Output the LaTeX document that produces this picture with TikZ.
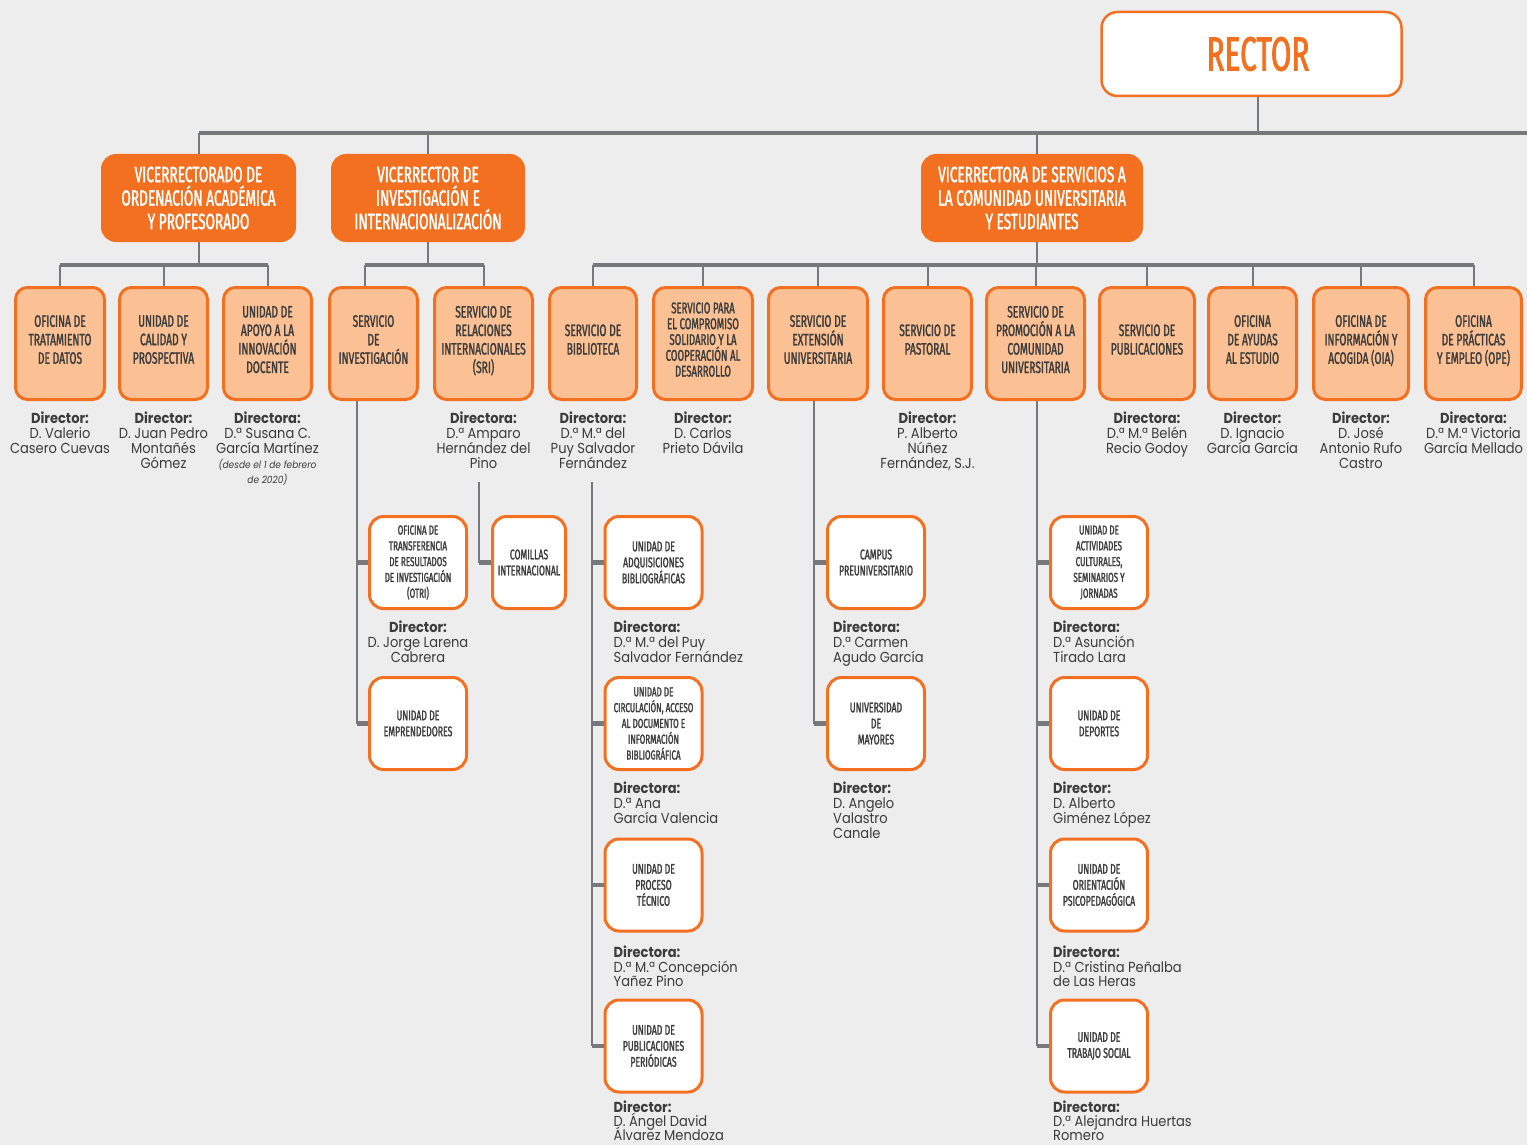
\documentclass[tikz,border=0pt]{standalone}
\usepackage{fontspec}
\setmainfont[FakeStretch=0.9]{Poppins}
\newfontfamily\condfont[FakeStretch=0.62,FakeBold=1.6]{Fira Sans}
\usetikzlibrary{positioning}

\definecolor{uorange}{HTML}{F37021}
\definecolor{ulight}{HTML}{FBC194}
\definecolor{ugray}{HTML}{77787B}
\definecolor{ubg}{HTML}{EDEDED}
\definecolor{utext}{HTML}{3C3C3C}

\newcommand\tightlines{\lineskiplimit=-20pt\relax}

\tikzset{
  rectorbox/.style={draw=uorange, fill=white, line width=2.5pt, rounded corners=16pt,
    text=uorange, font=\condfont\fontsize{48}{50}\selectfont, minimum width=300pt, minimum height=84pt},
  vicebox/.style={draw=uorange, fill=uorange, line width=2pt, rounded corners=14pt, text=white,
    font=\condfont\fontsize{22}{23.5}\selectfont, align=center, minimum height=86pt, inner sep=0pt},
  servbox/.style={draw=uorange, fill=ulight, line width=3pt, rounded corners=12pt, text=utext,
    font=\condfont\fontsize{16.5}{18.5}\selectfont, align=center, minimum height=112pt, inner sep=0pt,
    text depth=8pt},
  unitbox/.style={draw=uorange, fill=white, line width=3pt, rounded corners=14pt, text=utext,
    font=\condfont\fontsize{14}{16}\selectfont, align=center, minimum width=97pt, minimum height=92pt, inner sep=0pt},
  who/.style={text=utext, font=\fontsize{14.5}{14.8}\selectfont\tightlines, align=center, inner sep=0pt},
  whoL/.style={who, align=left, anchor=north west},
  link/.style={draw=ugray, line width=2pt},
  bar/.style={draw=ugray, line width=4.5pt},
}

\begin{document}
\begin{tikzpicture}[x=1pt, y=-1pt]
  \useasboundingbox (0,0) rectangle (1527,1145);
  \fill[ubg] (0,0) rectangle (1527,1145);

  % rector and vice-rectors
  \node[rectorbox] (rector) at (1251.5,54) {\hspace*{13pt}RECTOR};
  \node[vicebox, minimum width=193pt] (vr1) at (198.5,198) {VICERRECTORADO DE\\ORDENACIÓN ACADÉMICA\\Y PROFESORADO};
  \node[vicebox, minimum width=192pt] (vr2) at (428,198) {VICERRECTOR DE\\INVESTIGACIÓN E\\INTERNACIONALIZACIÓN};
  \node[vicebox, minimum width=220pt] (vr3) at (1032,198) {VICERRECTORA DE SERVICIOS A\\LA COMUNIDAD UNIVERSITARIA\\Y ESTUDIANTES};

  \coordinate (bar0) at (199,133);
  \coordinate (bar0end) at (1527,133);
  \draw[link] ([xshift=6.5pt]rector.south) -- ([xshift=6.5pt]rector.south |- bar0);
  \draw[bar] (bar0) -- (bar0end);
  \draw[link] (vr1.north) -- (vr1.north |- bar0);
  \draw[link] (vr2.north) -- (vr2.north |- bar0);
  \draw[link] ([xshift=5pt]vr3.north) -- ([xshift=5pt]vr3.north |- bar0);

  % services
  \node[servbox, minimum width=89pt] (tdat) at (60,343.5) {OFICINA DE\\TRATAMIENTO\\DE DATOS};
  \node[servbox, minimum width=88pt] (calid) at (163.5,343.5) {UNIDAD DE\\CALIDAD Y\\PROSPECTIVA};
  \node[servbox, minimum width=88pt] (innov) at (267.5,343.5) {UNIDAD DE\\APOYO A LA\\INNOVACIÓN\\DOCENTE};
  \node[servbox, minimum width=88pt] (sinv) at (373.5,343.5) {SERVICIO\\DE\\INVESTIGACIÓN};
  \node[servbox, minimum width=98pt] (sri) at (483.5,343.5) {SERVICIO DE\\RELACIONES\\INTERNACIONALES\\(SRI)};
  \node[servbox, minimum width=87pt] (bibl) at (593,343.5) {SERVICIO DE\\BIBLIOTECA};
  \node[servbox, minimum width=99pt, font=\condfont\fontsize{15.5}{15.8}\selectfont] (compr) at (703,343.5) {SERVICIO PARA\\EL COMPROMISO\\SOLIDARIO Y LA\\COOPERACIÓN AL\\DESARROLLO};
  \node[servbox, minimum width=99pt] (ext) at (818,343.5) {SERVICIO DE\\EXTENSIÓN\\UNIVERSITARIA};
  \node[servbox, minimum width=88pt] (past) at (927.5,343.5) {SERVICIO DE\\PASTORAL};
  \node[servbox, minimum width=98pt] (prom) at (1035.5,343.5) {SERVICIO DE\\PROMOCIÓN A LA\\COMUNIDAD\\UNIVERSITARIA};
  \node[servbox, minimum width=95pt] (publ) at (1147,343.5) {SERVICIO DE\\PUBLICACIONES};
  \node[servbox, minimum width=88pt] (ayud) at (1252.5,343.5) {OFICINA\\DE AYUDAS\\AL ESTUDIO};
  \node[servbox, minimum width=95pt] (oia) at (1361,343.5) {OFICINA DE\\INFORMACIÓN Y\\ACOGIDA (OIA)};
  \node[servbox, minimum width=96pt] (ope) at (1473.5,343.5) {OFICINA\\DE PRÁCTICAS\\Y EMPLEO (OPE)};

  \coordinate (bar1) at (0,265);
  \draw[link] (vr1) -- (vr1 |- bar1);
  \draw[bar] (tdat.north |- bar1) -- (innov.north |- bar1);
  \foreach \n in {tdat,calid,innov}
    \draw[link] (\n.north) -- (\n.north |- bar1);
  \draw[link] (vr2) -- (vr2 |- bar1);
  \draw[bar] ([xshift=-9pt]sinv.north |- bar1) -- (sri.north |- bar1);
  \draw[link] ([xshift=-9pt]sinv.north) -- ([xshift=-9pt]sinv.north |- bar1);
  \draw[link] (sri.north) -- (sri.north |- bar1);
  \draw[link] ([xshift=5pt]vr3.south) -- ([xshift=5pt]vr3.south |- bar1);
  \draw[bar] (bibl.north |- bar1) -- (ope.north |- bar1);
  \foreach \n in {bibl,compr,ext,past,prom,publ,ayud,oia,ope}
    \draw[link] (\n.north) -- (\n.north |- bar1);

  % heads of services
  \node[who, below=11pt of tdat] {\textbf{Director:}\\D. Valerio\\Casero Cuevas};
  \node[who, below=11pt of calid] {\textbf{Director:}\\D. Juan Pedro\\Montañés\\Gómez};
  \node[who, below=11pt of innov] {\textbf{Directora:}\\D.ª Susana C.\\García Martínez\\{\itshape\fontsize{10}{15}\selectfont(desde el 1 de febrero}\\{\itshape\fontsize{10}{15}\selectfont de 2020)}};
  \node[who, below=11pt of sri] {\textbf{Directora:}\\D.ª Amparo\\Hernández del\\Pino};
  \node[who, below=11pt of bibl] {\textbf{Directora:}\\D.ª M.ª del\\Puy Salvador\\Fernández};
  \node[who, below=11pt of compr] {\textbf{Director:}\\D. Carlos\\Prieto Dávila};
  \node[who, below=11pt of past] {\textbf{Director:}\\P. Alberto\\Núñez\\Fernández, S.J.};
  \node[who, below=11pt of publ] {\textbf{Directora:}\\D.ª M.ª Belén\\Recio Godoy};
  \node[who, below=11pt of ayud] {\textbf{Director:}\\D. Ignacio\\García García};
  \node[who, below=11pt of oia] {\textbf{Director:}\\D. José\\Antonio Rufo\\Castro};
  \node[who, below=11pt of ope] {\textbf{Directora:}\\D.ª M.ª Victoria\\García Mellado};

  % units
  \node[unitbox, font=\condfont\fontsize{13}{15.8}\selectfont] (otri) at (418,562.5) {OFICINA DE\\TRANSFERENCIA\\DE RESULTADOS\\DE INVESTIGACIÓN\\(OTRI)};
  \node[unitbox] (empr) at (418,723.5) {UNIDAD DE\\EMPRENDEDORES};
  \node[unitbox, minimum width=73pt] (comi) at (529,562.5) {COMILLAS\\INTERNACIONAL};
  \node[unitbox] (adq) at (653.5,562.5) {UNIDAD DE\\ADQUISICIONES\\BIBLIOGRÁFICAS};
  \node[unitbox, font=\condfont\fontsize{13}{15.8}\selectfont] (circ) at (653.5,723.5) {UNIDAD DE\\CIRCULACIÓN, ACCESO\\AL DOCUMENTO E\\INFORMACIÓN\\BIBLIOGRÁFICA};
  \node[unitbox] (proc) at (653.5,885) {UNIDAD DE\\PROCESO\\TÉCNICO};
  \node[unitbox] (perio) at (653.5,1046) {UNIDAD DE\\PUBLICACIONES\\PERIÓDICAS};
  \node[unitbox] (campus) at (876,562.5) {CAMPUS\\PREUNIVERSITARIO};
  \node[unitbox] (mayor) at (876,723.5) {UNIVERSIDAD\\DE\\MAYORES};
  \node[unitbox, font=\condfont\fontsize{13}{15.8}\selectfont] (activ) at (1099,562.5) {UNIDAD DE\\ACTIVIDADES\\CULTURALES,\\SEMINARIOS Y\\JORNADAS};
  \node[unitbox] (deport) at (1099,723.5) {UNIDAD DE\\DEPORTES};
  \node[unitbox] (orient) at (1099,885) {UNIDAD DE\\ORIENTACIÓN\\PSICOPEDAGÓGICA};
  \node[unitbox] (trab) at (1099,1046) {UNIDAD DE\\TRABAJO SOCIAL};

  % branches to units
  \coordinate (dinv) at ([xshift=-17pt]sinv.south);
  \draw[link] (dinv) -- (dinv |- empr.west);
  \foreach \n in {otri,empr}
    \draw[bar] (dinv |- \n.west) -- (\n.west);
  \coordinate (dsri) at (479,482);
  \draw[link] (dsri) -- (dsri |- comi.west);
  \draw[bar] (dsri |- comi.west) -- (comi.west);
  \coordinate (dbib) at (592,482);
  \draw[link] (dbib) -- (dbib |- perio.west);
  \foreach \n in {adq,circ,proc,perio}
    \draw[bar] (dbib |- \n.west) -- (\n.west);
  \coordinate (dext) at ([xshift=-4pt]ext.south);
  \draw[link] (dext) -- (dext |- mayor.west);
  \foreach \n in {campus,mayor}
    \draw[bar] (dext |- \n.west) -- (\n.west);
  \coordinate (dprom) at ([xshift=1.5pt]prom.south);
  \draw[link] (dprom) -- (dprom |- trab.west);
  \foreach \n in {activ,deport,orient,trab}
    \draw[bar] (dprom |- \n.west) -- (\n.west);

  % heads of units
  \node[who, below=11pt of otri] {\textbf{Director:}\\D. Jorge Larena\\Cabrera};
  \node[whoL] at ([shift={(10pt,-11pt)}]adq.south west) {\textbf{Directora:}\\D.ª M.ª del Puy\\Salvador Fernández};
  \node[whoL] at ([shift={(10pt,-11pt)}]circ.south west) {\textbf{Directora:}\\D.ª Ana\\García Valencia};
  \node[whoL] at ([shift={(10pt,-13pt)}]proc.south west) {\textbf{Directora:}\\D.ª M.ª Concepción\\Yañez Pino};
  \node[whoL, font=\fontsize{14.5}{14.2}\selectfont\tightlines] at ([shift={(10pt,-7pt)}]perio.south west) {\textbf{Director:}\\D. Ángel David\\Álvarez Mendoza};
  \node[whoL] at ([shift={(7pt,-11pt)}]campus.south west) {\textbf{Directora:}\\D.ª Carmen\\Agudo García};
  \node[whoL] at ([shift={(7pt,-11pt)}]mayor.south west) {\textbf{Director:}\\D. Angelo\\Valastro\\Canale};
  \node[whoL] at ([shift={(4pt,-11pt)}]activ.south west) {\textbf{Directora:}\\D.ª Asunción\\Tirado Lara};
  \node[whoL] at ([shift={(4pt,-11pt)}]deport.south west) {\textbf{Director:}\\D. Alberto\\Giménez López};
  \node[whoL] at ([shift={(4pt,-13pt)}]orient.south west) {\textbf{Directora:}\\D.ª Cristina Peñalba\\de Las Heras};
  \node[whoL, font=\fontsize{14.5}{14.2}\selectfont\tightlines] at ([shift={(4pt,-7pt)}]trab.south west) {\textbf{Directora:}\\D.ª Alejandra Huertas\\Romero};
\end{tikzpicture}
\end{document}
